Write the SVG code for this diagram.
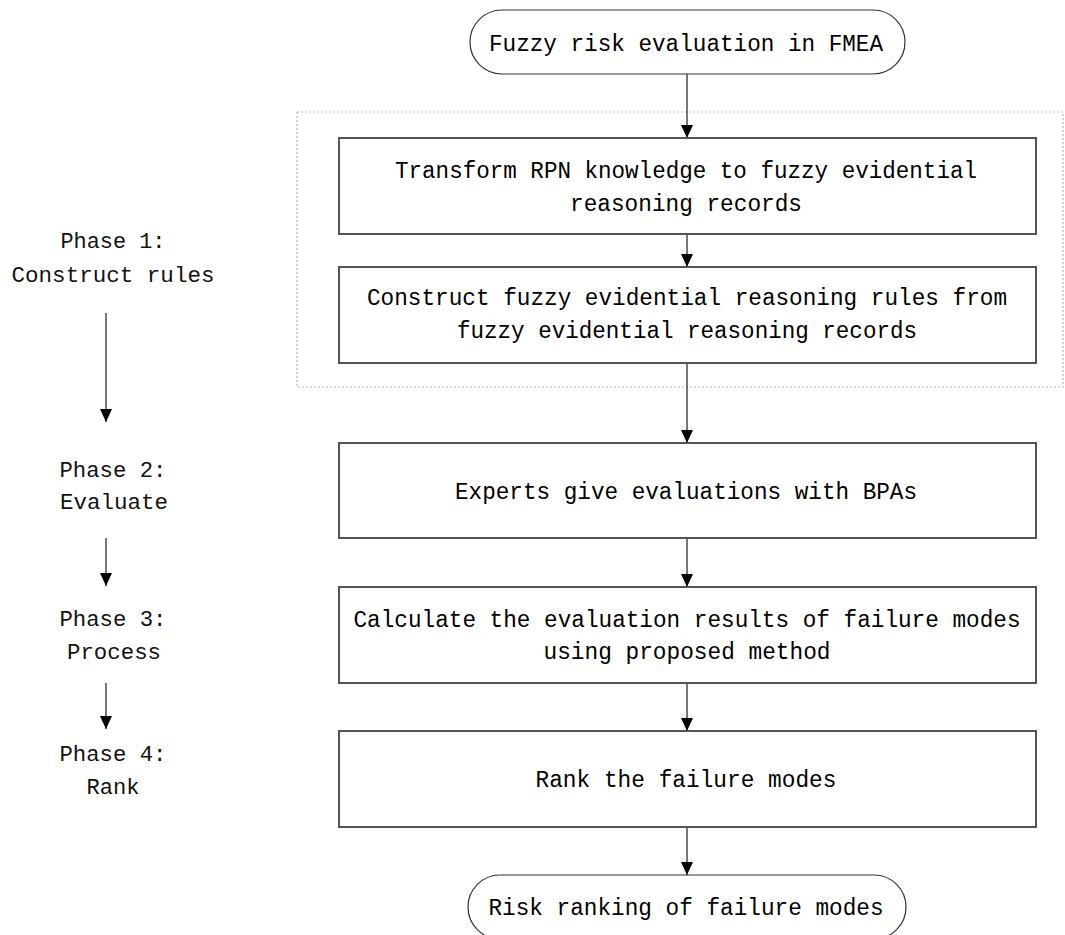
<svg xmlns="http://www.w3.org/2000/svg" width="1065" height="935" viewBox="0 0 1065 935">
<style>
.box{fill:#fff;stroke:#555;stroke-width:2}
.term{fill:#fff;stroke:#333;stroke-width:1.2}
.t{font-family:"Liberation Mono","DejaVu Sans Mono",monospace;font-size:23.5px;fill:#000;text-anchor:middle}
.lt{font-family:"Liberation Mono","DejaVu Sans Mono",monospace;font-size:22px;fill:#111;text-anchor:middle}
.c{stroke:#555;stroke-width:1.6;fill:none;marker-end:url(#ah)}
</style>
<defs>
<marker id="ah" markerWidth="13" markerHeight="12" refX="13" refY="6" orient="auto" markerUnits="userSpaceOnUse" viewBox="0 0 13 12">
<path d="M0,0 L13,6 L0,12 Z" fill="#000"/>
</marker>
</defs>
<rect width="1065" height="935" fill="#fff"/>
<rect id="phase1-region" x="297" y="112" width="766" height="275" fill="none" stroke="#bbb" stroke-width="1.2" stroke-dasharray="2 2"/>
<g id="connectors">
<path class="c" d="M687,74 V138"/>
<path class="c" d="M687,234 V267"/>
<path class="c" d="M687,363 V443"/>
<path class="c" d="M687,538 V587"/>
<path class="c" d="M687,683 V731"/>
<path class="c" d="M687,827 V875"/>
<path class="c" d="M106,313 V422"/>
<path class="c" d="M106,538 V586"/>
<path class="c" d="M106,683 V729"/>
</g>
<g id="start">
<rect class="term" x="470" y="10" width="435" height="64" rx="32" ry="32"/>
<text class="t" x="686" y="51" textLength="394" lengthAdjust="spacingAndGlyphs">Fuzzy risk evaluation in FMEA</text>
</g>
<g id="transform">
<rect class="box" x="339" y="138" width="697" height="96"/>
<text class="t" x="686" y="178" textLength="582" lengthAdjust="spacingAndGlyphs">Transform RPN knowledge to fuzzy evidential</text>
<text class="t" x="686" y="211" textLength="232" lengthAdjust="spacingAndGlyphs">reasoning records</text>
</g>
<g id="construct">
<rect class="box" x="339" y="267" width="697" height="96"/>
<text class="t" x="687" y="305" textLength="640" lengthAdjust="spacingAndGlyphs">Construct fuzzy evidential reasoning rules from</text>
<text class="t" x="687" y="338" textLength="460" lengthAdjust="spacingAndGlyphs">fuzzy evidential reasoning records</text>
</g>
<g id="experts">
<rect class="box" x="339" y="443" width="697" height="95"/>
<text class="t" x="686" y="499" textLength="462" lengthAdjust="spacingAndGlyphs">Experts give evaluations with BPAs</text>
</g>
<g id="calculate">
<rect class="box" x="339" y="587" width="697" height="96"/>
<text class="t" x="687" y="627" textLength="667" lengthAdjust="spacingAndGlyphs">Calculate the evaluation results of failure modes</text>
<text class="t" x="687" y="659" textLength="287" lengthAdjust="spacingAndGlyphs">using proposed method</text>
</g>
<g id="rank">
<rect class="box" x="339" y="731" width="697" height="96"/>
<text class="t" x="686" y="787" textLength="301" lengthAdjust="spacingAndGlyphs">Rank the failure modes</text>
</g>
<g id="end">
<rect class="term" x="468" y="875" width="438" height="64" rx="32" ry="32"/>
<text class="t" x="686" y="915" textLength="395" lengthAdjust="spacingAndGlyphs">Risk ranking of failure modes</text>
</g>
<g id="phase1"><text class="lt" x="113" y="248" textLength="105" lengthAdjust="spacingAndGlyphs">Phase 1:</text><text class="lt" x="113" y="282" textLength="203" lengthAdjust="spacingAndGlyphs">Construct rules</text></g>
<g id="phase2"><text class="lt" x="113" y="477" textLength="107" lengthAdjust="spacingAndGlyphs">Phase 2:</text><text class="lt" x="114" y="509" textLength="108" lengthAdjust="spacingAndGlyphs">Evaluate</text></g>
<g id="phase3"><text class="lt" x="113" y="626" textLength="107" lengthAdjust="spacingAndGlyphs">Phase 3:</text><text class="lt" x="114" y="659" textLength="94" lengthAdjust="spacingAndGlyphs">Process</text></g>
<g id="phase4"><text class="lt" x="113" y="761" textLength="107" lengthAdjust="spacingAndGlyphs">Phase 4:</text><text class="lt" x="113" y="794" textLength="53" lengthAdjust="spacingAndGlyphs">Rank</text></g>
</svg>
